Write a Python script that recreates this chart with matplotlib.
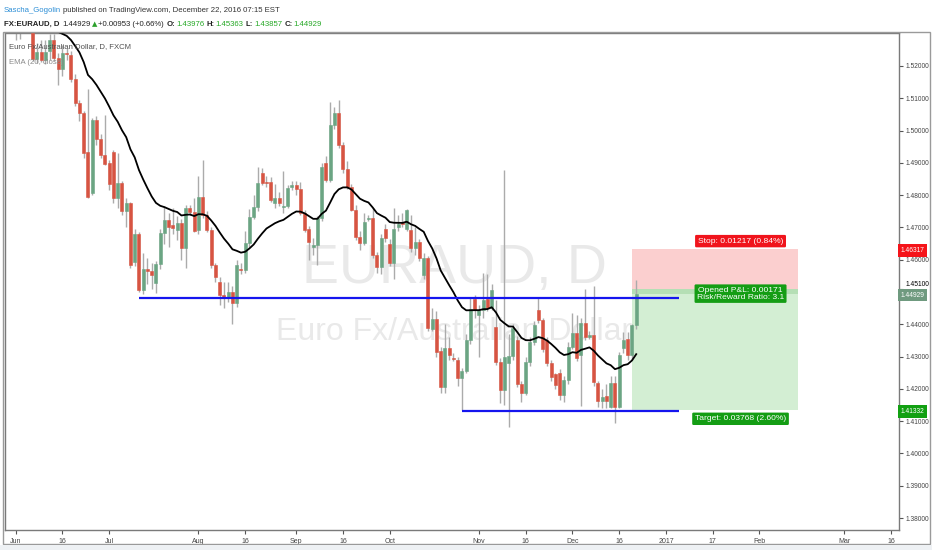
import numpy as np
import pandas as pd
import matplotlib
matplotlib.use('Agg')
import matplotlib.pyplot as plt
from matplotlib.patches import Rectangle

# EUR/AUD daily candles, weekdays only, first bar = 30 May 2016, last = 22 Dec 2016
start_date = '2016-05-30'
opens = [1.5380, 1.5350, 1.5370, 1.5340, 1.5360, 1.5385, 1.5350, 1.5222, 1.5244, 1.5219,
         1.5245, 1.5281, 1.5224, 1.5190, 1.5240, 1.5233, 1.5159, 1.5084, 1.5053, 1.4935,
         1.4808, 1.5033, 1.4973, 1.4923, 1.4900, 1.4935, 1.4790, 1.4837, 1.4752, 1.4775,
         1.4594, 1.4680, 1.4506, 1.4570, 1.4564, 1.4527, 1.4587, 1.4682, 1.4723, 1.4706,
         1.4692, 1.4713, 1.4635, 1.4759, 1.4749, 1.4692, 1.4795, 1.4738, 1.4692, 1.4584,
         1.4532, 1.4491, 1.4484, 1.4501, 1.4467, 1.4570, 1.4568, 1.4651, 1.4733, 1.4764,
         1.4868, 1.4840, 1.4840, 1.4775, 1.4790, 1.4764, 1.4766, 1.4826, 1.4831, 1.4818,
         1.4745, 1.4695, 1.4640, 1.4646, 1.4728, 1.4901, 1.4847, 1.5017, 1.5053, 1.4955,
         1.4882, 1.4826, 1.4754, 1.4669, 1.4653, 1.4725, 1.4728, 1.4615, 1.4578, 1.4694,
         1.4650, 1.4589, 1.4700, 1.4716, 1.4694, 1.4692, 1.4635, 1.4656, 1.4553, 1.4604,
         1.4384, 1.4415, 1.4317, 1.4207, 1.4326, 1.4297, 1.4289, 1.4233, 1.4255, 1.4351,
         1.4478, 1.4430, 1.4444, 1.4478, 1.4452, 1.4393, 1.4284, 1.4197, 1.4281, 1.4302,
         1.4351, 1.4215, 1.4186, 1.4284, 1.4346, 1.4444, 1.4413, 1.4351, 1.4279, 1.4245,
         1.4248, 1.4181, 1.4227, 1.4331, 1.4374, 1.4305, 1.4405, 1.4362, 1.4368, 1.4219,
         1.4162, 1.4178, 1.4145, 1.4219, 1.4145, 1.4328, 1.4353, 1.4305, 1.43976]
highs = [1.5420, 1.5400, 1.5400, 1.5390, 1.5410, 1.5420, 1.5370, 1.5270, 1.5280, 1.5280,
         1.5300, 1.5300, 1.5240, 1.5265, 1.5255, 1.5245, 1.5175, 1.5095, 1.5060, 1.5128,
         1.5040, 1.5045, 1.4990, 1.5048, 1.4910, 1.4940, 1.4932, 1.4845, 1.4790, 1.4780,
         1.4695, 1.4685, 1.4620, 1.4605, 1.4590, 1.4595, 1.4695, 1.4765, 1.4745, 1.4760,
         1.4735, 1.4725, 1.4770, 1.4770, 1.4790, 1.4860, 1.4909, 1.4750, 1.4700, 1.4590,
         1.4545, 1.4530, 1.4530, 1.4520, 1.4600, 1.4590, 1.4690, 1.4758, 1.4800, 1.4888,
         1.4885, 1.4860, 1.4855, 1.4835, 1.4810, 1.4875, 1.4830, 1.4845, 1.4845, 1.4840,
         1.4755, 1.4705, 1.4666, 1.4735, 1.4900, 1.4920, 1.5089, 1.5074, 1.5095, 1.4965,
         1.4905, 1.4835, 1.4770, 1.4690, 1.4745, 1.4740, 1.4760, 1.4625, 1.4680, 1.4710,
         1.4665, 1.4760, 1.4740, 1.4745, 1.4758, 1.4740, 1.4700, 1.4665, 1.4620, 1.4610,
         1.4450, 1.4440, 1.4330, 1.4400, 1.4360, 1.4310, 1.4300, 1.4265, 1.4370, 1.4480,
         1.4490, 1.4460, 1.4560, 1.4556, 1.4525, 1.4475, 1.4295, 1.4878, 1.4370, 1.4400,
         1.4365, 1.4225, 1.4300, 1.4360, 1.4410, 1.4485, 1.4420, 1.4360, 1.4290, 1.4250,
         1.4262, 1.4240, 1.4345, 1.4434, 1.4430, 1.4420, 1.4508, 1.4380, 1.4518, 1.4225,
         1.4200, 1.4215, 1.4240, 1.4240, 1.4315, 1.4375, 1.4375, 1.4400, 1.45363]
lows = [1.5330, 1.5310, 1.5281, 1.5285, 1.5320, 1.5330, 1.5215, 1.5210, 1.5212, 1.5205,
        1.5220, 1.5215, 1.5141, 1.5170, 1.5220, 1.5150, 1.5075, 1.5030, 1.4915, 1.4790,
        1.4800, 1.4955, 1.4915, 1.4893, 1.4815, 1.4775, 1.4760, 1.4740, 1.4702, 1.4575,
        1.4580, 1.4500, 1.4495, 1.4525, 1.4510, 1.4496, 1.4570, 1.4650, 1.4640, 1.4680,
        1.4660, 1.4600, 1.4575, 1.4740, 1.4685, 1.4680, 1.4730, 1.4685, 1.4575, 1.4530,
        1.4460, 1.4450, 1.4470, 1.4400, 1.4455, 1.4555, 1.4560, 1.4640, 1.4725, 1.4750,
        1.4830, 1.4825, 1.4778, 1.4760, 1.4765, 1.4745, 1.4760, 1.4815, 1.4800, 1.4740,
        1.4685, 1.4600, 1.4615, 1.4584, 1.4720, 1.4840, 1.4840, 1.5005, 1.4945, 1.4870,
        1.4820, 1.4750, 1.4660, 1.4630, 1.4645, 1.4720, 1.4605, 1.4560, 1.4555, 1.4655,
        1.4580, 1.4540, 1.4690, 1.4700, 1.4690, 1.4625, 1.4615, 1.4595, 1.4540, 1.4380,
        1.4378, 1.4300, 1.4186, 1.4186, 1.4290, 1.4285, 1.4210, 1.4135, 1.4250, 1.4340,
        1.4420, 1.4300, 1.4420, 1.4440, 1.4445, 1.4275, 1.4155, 1.4150, 1.4083, 1.4290,
        1.4205, 1.4160, 1.4180, 1.4270, 1.4335, 1.4405, 1.4315, 1.4270, 1.4225, 1.4200,
        1.4165, 1.4160, 1.4215, 1.4325, 1.4285, 1.4148, 1.4350, 1.4355, 1.4210, 1.4145,
        1.4140, 1.4140, 1.4140, 1.4094, 1.4140, 1.4310, 1.4290, 1.4290, 1.43857]
closes = [1.5350, 1.5370, 1.5340, 1.5360, 1.5385, 1.5350, 1.5222, 1.5244, 1.5219, 1.5244,
          1.5281, 1.5224, 1.5190, 1.5239, 1.5236, 1.5159, 1.5084, 1.5053, 1.4929, 1.4795,
          1.5033, 1.4973, 1.4923, 1.4898, 1.4836, 1.4790, 1.4837, 1.4752, 1.4775, 1.4584,
          1.4680, 1.4506, 1.4570, 1.4564, 1.4554, 1.4587, 1.4682, 1.4723, 1.4702, 1.4698,
          1.4713, 1.4635, 1.4759, 1.4749, 1.4690, 1.4795, 1.4738, 1.4692, 1.4584, 1.4547,
          1.4491, 1.4484, 1.4501, 1.4465, 1.4584, 1.4568, 1.4651, 1.4733, 1.4764, 1.4837,
          1.4837, 1.4838, 1.4785, 1.4790, 1.4775, 1.4766, 1.4821, 1.4831, 1.4818, 1.4745,
          1.4692, 1.4655, 1.4646, 1.4728, 1.4888, 1.4847, 1.5017, 1.5053, 1.4955, 1.4880,
          1.4826, 1.4754, 1.4669, 1.4653, 1.4718, 1.4730, 1.4615, 1.4578, 1.4666, 1.4666,
          1.4589, 1.4694, 1.4712, 1.4712, 1.4753, 1.4635, 1.4656, 1.4604, 1.4604, 1.4388,
          1.4415, 1.4315, 1.4207, 1.4326, 1.4305, 1.4293, 1.4233, 1.4255, 1.4351, 1.4447,
          1.4444, 1.4444, 1.4475, 1.4452, 1.4506, 1.4284, 1.4197, 1.4300, 1.4302, 1.4388,
          1.4215, 1.4186, 1.4284, 1.4346, 1.4398, 1.4413, 1.4325, 1.4279, 1.4238, 1.4213,
          1.4181, 1.4227, 1.4331, 1.4372, 1.4295, 1.4405, 1.4360, 1.4368, 1.4221, 1.4162,
          1.4176, 1.4162, 1.4219, 1.4145, 1.4305, 1.4351, 1.4305, 1.43976, 1.44929]

ema_len = 20
ema_seed = 1.5400   # EMA value just before the first bar

# horizontal support lines drawn on the chart
upper_level, upper_from = 1.4482, '2016-07-12'
lower_level, lower_from = 1.4132, '2016-10-26'
lines_to = '2017-01-05'

# short position tool
entry, stop, target, last = 1.45100, 1.46317, 1.41332, 1.44929
pos_from, pos_to = '2016-12-21', '2017-02-14'

tick_dates = ['2016-06-01', '2016-06-16', '2016-07-01', '2016-08-01', '2016-08-16',
              '2016-09-01', '2016-09-16', '2016-10-03', '2016-11-01', '2016-11-16',
              '2016-12-01', '2016-12-16', '2017-01-02', '2017-01-17', '2017-02-01',
              '2017-03-01', '2017-03-16']
tick_labels = ['Jun', '16', 'Jul', 'Aug', '16', 'Sep', '16', 'Oct', 'Nov', '16',
               'Dec', '16', '2017', '17', 'Feb', 'Mar', '16']
price_ticks = [1.38, 1.39, 1.40, 1.41, 1.42, 1.43, 1.44, 1.451, 1.46, 1.47,
               1.48, 1.49, 1.50, 1.51, 1.52]

dates = pd.bdate_range(start_date, '2017-03-31')


def bar(d):
    return int(dates.get_indexer([pd.Timestamp(d)], method='bfill')[0])


plt.rcParams['font.family'] = ['Liberation Sans', 'DejaVu Sans']

up_col, dn_col = '#6ba583', '#d75442'
W, H = 932, 550

fig = plt.figure(figsize=(9.32, 5.5), dpi=100)
ax = fig.add_axes([5 / W, 1 - 529.6 / H, 894 / W, 496.6 / H])

o = np.array(opens)
h = np.array(highs)
l = np.array(lows)
c = np.array(closes)
x = np.arange(len(c))
col = np.where(c >= o, up_col, dn_col)

# watermark
ax.text(bar('2016-10-24') + 0.3, 1.4528, 'EURAUD, D', fontsize=40, color='#e9e9e9',
        ha='center', va='baseline', zorder=0)
ax.text(bar('2016-10-24') + 0.2, 1.4351, 'Euro Fx/Australian Dollar', fontsize=23,
        color='#e9e9e9', ha='center', va='baseline', zorder=0)

# position tool
p0, p1 = bar(pos_from), bar(pos_to)
ax.fill_between([p0, p1], entry, stop, color='#fbcfcf', lw=0, zorder=1)
ax.fill_between([p0, p1], target, entry, color='#d3eed3', lw=0, zorder=1)
ax.fill_between([p0, p1], last, entry, color='#b5dfb5', lw=0, zorder=1)

# candles
ax.vlines(x, l, h, color='#ababab', lw=1, zorder=2)
body = np.maximum(np.abs(c - o), 0.00025)
ax.bar(x, body, bottom=np.minimum(o, c), width=0.72, color=col, edgecolor=col,
       lw=0.4, zorder=3)

ema = pd.Series([ema_seed] + closes).ewm(span=ema_len, adjust=False).mean().iloc[1:]
ax.plot(x, ema.values, color='black', lw=1.3, zorder=4)

ax.hlines(upper_level, bar(upper_from), bar(lines_to), color='#1515ee', lw=1.6, zorder=5)
ax.hlines(lower_level, bar(lower_from), bar(lines_to), color='#1515ee', lw=1.6, zorder=5)

lx = (p0 + p1) / 2
dx = 18.5  # labels sit right of the box middle
ax.annotate('Stop: 0.01217 (0.84%)', xy=(lx, stop), xytext=(dx, 3.5), textcoords='offset points',
            ha='center', va='bottom', fontsize=6.1, color='white', zorder=7,
            bbox=dict(boxstyle='round,pad=0.32,rounding_size=0.15', fc='#f0141c', ec='none'))
ax.annotate('Opened P&L: 0.00171\nRisk/Reward Ratio: 3.1', xy=(lx, entry),
            xytext=(dx, -3.5), textcoords='offset points', ha='center', va='center',
            fontsize=6.1, color='white', linespacing=0.95, zorder=7,
            bbox=dict(boxstyle='round,pad=0.28,rounding_size=0.15', fc='#149d14', ec='none'))
ax.annotate('Target: 0.03768 (2.60%)', xy=(lx, target), xytext=(dx, -3.5),
            textcoords='offset points', ha='center', va='top', fontsize=6.1, color='white',
            zorder=7,
            bbox=dict(boxstyle='round,pad=0.32,rounding_size=0.15', fc='#149d14', ec='none'))

ax.set_xlim(-0.52, 209.83)
ax.set_ylim(1.37641, 1.53022)

ax.yaxis.tick_right()
ax.set_yticks(price_ticks)
ax.set_yticklabels(['' if p == entry else '%.5f' % p for p in price_ticks])
ax.tick_params(axis='y', length=3, width=0.8, color='#555555', labelsize=4.8, pad=1.5,
               labelcolor='#444444')
ax.set_xticks([bar(d) for d in tick_dates])
ax.set_xticklabels(tick_labels)
ax.tick_params(axis='x', length=3, width=0.8, color='#555555', labelsize=5, pad=3,
               labelcolor='#444444')
for s in ax.spines.values():
    s.set_color('#7a7a7a')
    s.set_linewidth(1)

ytr = ax.get_yaxis_transform()
# entry price label, nudged up so it clears the last-price box
ax.annotate('%.5f' % entry, xy=(1, entry), xycoords=ytr, xytext=(4.5, 3.2),
            textcoords='offset points', ha='left', va='center', fontsize=4.8,
            color='black', annotation_clip=False, zorder=8)
for price, fc in [(stop, '#f5141a'), (last, '#6f9a7f'), (target, '#12a012')]:
    ax.annotate('%.5f' % price, xy=(1, price), xycoords=ytr, xytext=(1.2, -0.6),
                textcoords='offset points', ha='left', va='center', fontsize=4.8,
                color='white', annotation_clip=False, zorder=8,
                bbox=dict(boxstyle='square,pad=0.42', fc=fc, ec='none'))

# legend inside the pane
ax.text(0.005, 1 - 14 / 496.6, 'Euro Fx/Australian Dollar, D, FXCM', transform=ax.transAxes,
        fontsize=5.6, color='#505050', va='center', ha='left', zorder=9)
ax.text(0.005, 1 - 29 / 496.6, 'EMA (20, close)', transform=ax.transAxes,
        fontsize=5.6, color='#8a8a8a', va='center', ha='left', zorder=9)

# header, pieces laid out one after another
rend = fig.canvas.get_renderer()


def header_line(y, pieces):
    px = 4
    for s, cc, fw, gap in pieces:
        fam = ['DejaVu Sans'] if s == '\u25b2' else ['Liberation Sans', 'DejaVu Sans']
        t = fig.text(px / W, 1 - y / H, s, fontsize=5.6 if s != '\u25b2' else 5,
                     color=cc, fontweight=fw, va='baseline', family=fam)
        px = t.get_window_extent(rend).x1 + gap


header_line(12.5, [('Sascha_Gogolin', '#2c8ed6', 'normal', 2),
                   ('published on TradingView.com, December 22, 2016 07:15 EST', '#333333',
                    'normal', 0)])
header_line(26, [('FX:EURAUD, D', '#222222', 'bold', 2.5), ('1.44929', '#222222', 'normal', 1.5),
                 ('\u25b2', '#2ca02c', 'normal', 1), ('+0.00953 (+0.66%)', '#222222', 'normal', 2.5),
                 ('O:', '#222222', 'bold', 0.8), ('1.43976', '#26a826', 'normal', 2.5),
                 ('H:', '#222222', 'bold', 0.8), ('1.45363', '#26a826', 'normal', 2.5),
                 ('L:', '#222222', 'bold', 0.8), ('1.43857', '#26a826', 'normal', 2.5),
                 ('C:', '#222222', 'bold', 0.8), ('1.44929', '#26a826', 'normal', 0)])

# outer frame of the chart and time scale
fig.patches.append(Rectangle((3 / W, 1 - 544 / H), 927 / W, 512 / H, transform=fig.transFigure,
                             fill=False, ec='#9a9a9a', lw=1))
fig.patches.append(Rectangle((0, 0), 1, 5.5 / H, transform=fig.transFigure,
                             fc='#eef1f4', ec='none'))

fig.savefig('out.png', dpi=100)
